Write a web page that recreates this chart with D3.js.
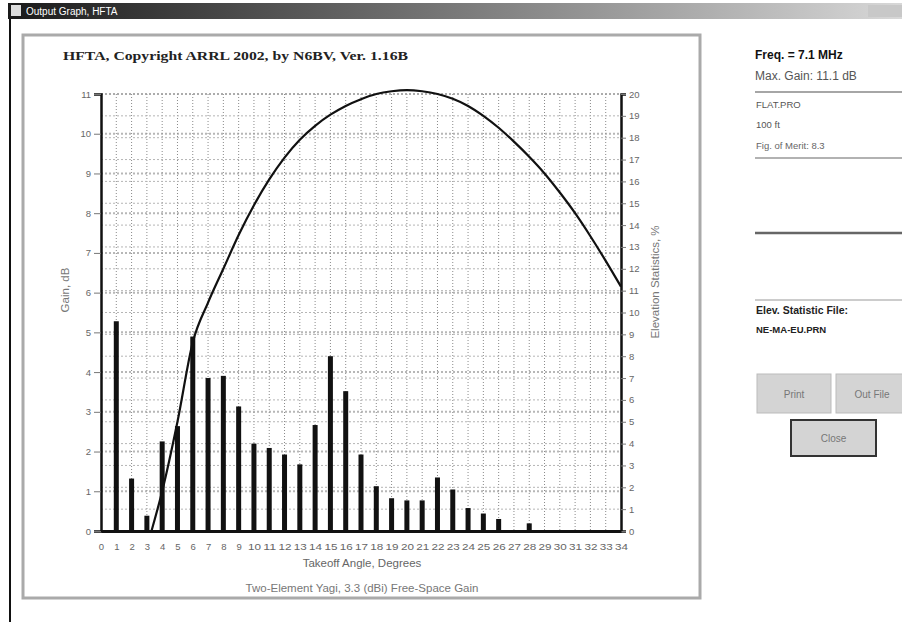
<!DOCTYPE html>
<html><head><meta charset="utf-8">
<script src="https://cdn.jsdelivr.net/npm/d3@7"></script>
<style>body{margin:0;background:#fff}svg{display:block}</style>
</head><body><svg id="c" width="902" height="622"></svg>
<script>
// ---- data ----
const angleTicks = d3.range(0, 35);          // 0..34 degrees
const gainTicks = d3.range(0, 12);           // 0..11 dB
const statTicks = d3.range(0, 21);           // 0..20 %
const statAngles = d3.range(1, 29);          // 1..28
const statValues = [9.6, 2.4, 0.7, 4.1, 4.8, 8.9, 7.0, 7.1, 5.7, 4.0, 3.8, 3.5, 3.05, 4.85,
                    8.0, 6.4, 3.5, 2.05, 1.5, 1.4, 1.4, 2.45, 1.9, 1.05, 0.8, 0.55, 0, 0.35];
const gainAngles = [3.3, 4, 5, 6, 7, 8, 9, 10, 11, 12, 13, 14, 15, 16, 17, 18, 19, 20, 21, 22,
                    23, 24, 25, 26, 27, 28, 29, 30, 31, 32, 33, 34];
const gainValues = [0, 1.0, 2.75, 4.75, 5.75, 6.6, 7.45, 8.2, 8.85, 9.4, 9.85, 10.2, 10.48, 10.7,
                    10.87, 11.0, 11.07, 11.1, 11.07, 11.0, 10.88, 10.7, 10.45, 10.15, 9.8, 9.42,
                    9.0, 8.52, 8.0, 7.42, 6.8, 6.15];
const titleText = "HFTA, Copyright ARRL 2002, by N6BV, Ver. 1.16B";
const windowTitle = "Output Graph, HFTA";
const infoLines = ["Freq. = 7.1 MHz", "Max. Gain: 11.1 dB", "FLAT.PRO", "100 ft", "Fig. of Merit: 8.3",
                   "Elev. Statistic File:", "NE-MA-EU.PRN"];

const svg = d3.select("#c");
const X0 = 101, X1 = 621, Y0 = 531, Y1 = 94;
const x = d3.scaleLinear().domain([0, 34]).range([X0, X1]);
const yG = d3.scaleLinear().domain([0, 11]).range([Y0, Y1]);
const yS = d3.scaleLinear().domain([0, 20]).range([Y0, Y1]);

// ---- window chrome ----
const defs = svg.append("defs");
const gr = defs.append("linearGradient").attr("id", "tb");
gr.append("stop").attr("offset", "0").attr("stop-color", "#1a1a1a");
gr.append("stop").attr("offset", "1").attr("stop-color", "#d8d8d8");
svg.append("rect").attr("x", 8).attr("y", 3).attr("width", 894).attr("height", 16).attr("fill", "url(#tb)");
svg.append("rect").attr("x", 11).attr("y", 5).attr("width", 10).attr("height", 11).attr("fill", "#ddd");
svg.append("text").attr("x", 26).attr("y", 15).attr("fill", "#fff")
  .style("font", "10px 'Liberation Sans', Arial, sans-serif").text(windowTitle);
svg.append("rect").attr("x", 868).attr("y", 5).attr("width", 34).attr("height", 12).attr("fill", "#c8c8c8");
svg.append("line").attr("x1", 10).attr("x2", 10).attr("y1", 19).attr("y2", 622).attr("stroke", "#111").attr("stroke-width", 2);

// chart panel frame
svg.append("rect").attr("x", 23).attr("y", 35).attr("width", 677).attr("height", 563)
  .attr("fill", "#fff").attr("stroke", "#aaa").attr("stroke-width", 3);

svg.append("text").attr("x", 63).attr("y", 60)
  .style("font", "bold 13px 'Liberation Serif', 'Times New Roman', serif").attr("fill", "#222")
  .attr("textLength", 345).attr("lengthAdjust", "spacingAndGlyphs")
  .text(titleText);

// ---- grid ----
const grid = svg.append("g");
grid.selectAll(".vg").data(angleTicks.filter(d => d > 0 && d < 34)).join("line")
  .attr("x1", d => x(d)).attr("x2", d => x(d)).attr("y1", Y1).attr("y2", Y0)
  .attr("stroke", "#8a8a8a").attr("stroke-width", 1).attr("stroke-dasharray", "1,2");
grid.selectAll(".hs").data(statTicks.filter(d => d > 0)).join("line")
  .attr("x1", X0).attr("x2", X1).attr("y1", d => yS(d)).attr("y2", d => yS(d))
  .attr("stroke", "#b5b5b5").attr("stroke-width", 1).attr("stroke-dasharray", "2,2");
grid.selectAll(".hg").data(gainTicks.filter(d => d > 0)).join("line")
  .attr("x1", X0).attr("x2", X1).attr("y1", d => yG(d)).attr("y2", d => yG(d))
  .attr("stroke", "#999").attr("stroke-width", 2).attr("stroke-dasharray", "2,2").attr("opacity", 0.7);

// ---- bars ----
svg.append("g").selectAll("rect").data(statAngles.map((a, i) => [a, statValues[i]])).join("rect")
  .attr("x", d => x(d[0]) - 2.5).attr("width", 5)
  .attr("y", d => yS(d[1])).attr("height", d => Y0 - yS(d[1]))
  .attr("fill", "#111");

// ---- gain curve ----
const line = d3.line().x(d => x(d[0])).y(d => yG(d[1])).curve(d3.curveMonotoneX);
svg.append("path").datum(gainAngles.map((a, i) => [a, gainValues[i]]))
  .attr("d", line).attr("fill", "none").attr("stroke", "#111").attr("stroke-width", 2.2);

// ---- axes ----
const tickFont = "9.5px 'Liberation Sans', Arial, sans-serif";
const axL = svg.append("g").attr("transform", `translate(${X0},0)`)
  .call(d3.axisLeft(yG).tickValues(gainTicks).tickSize(7).tickPadding(3).tickFormat(d3.format("d")));
const axR = svg.append("g").attr("transform", `translate(${X1},0)`)
  .call(d3.axisRight(yS).tickValues(statTicks).tickSize(5).tickPadding(3).tickFormat(d3.format("d")));
const axB = svg.append("g").attr("transform", `translate(0,${Y0})`)
  .call(d3.axisBottom(x).tickValues(angleTicks).tickSize(0).tickPadding(12).tickFormat(d3.format("d")));
[axL, axR, axB].forEach(a => {
  a.select(".domain").attr("stroke", "#111").attr("stroke-width", 2.5);
  a.selectAll(".tick line").attr("stroke", "#777");
  a.selectAll("text").style("font", tickFont).attr("fill", "#666");
});
axB.select(".domain").attr("stroke-width", 3);
axB.selectAll("text").attr("textLength", d => d >= 10 ? 13 : null).attr("lengthAdjust", "spacingAndGlyphs");

const labFont = "11.5px 'Liberation Sans', Arial, sans-serif";
svg.append("text").attr("transform", "translate(69,290) rotate(-90)").attr("text-anchor", "middle")
  .style("font", labFont).attr("fill", "#777").text("Gain, dB");
svg.append("text").attr("transform", "translate(659,282) rotate(-90)").attr("text-anchor", "middle")
  .style("font", labFont).attr("fill", "#777").text("Elevation Statistics, %");
svg.append("text").attr("x", 362).attr("y", 567).attr("text-anchor", "middle")
  .style("font", labFont).attr("fill", "#666").text("Takeoff Angle, Degrees");
svg.append("text").attr("x", 362).attr("y", 592).attr("text-anchor", "middle")
  .style("font", labFont).attr("fill", "#777").text("Two-Element Yagi, 3.3 (dBi) Free-Space Gain");

// ---- right info panel ----
const pf = "'Liberation Sans', Arial, sans-serif";
function t(s, xx, yy, f, c) { svg.append("text").attr("x", xx).attr("y", yy).style("font", f).attr("fill", c).text(s); }
t(infoLines[0], 755, 59, `bold 12px ${pf}`, "#111");
t(infoLines[1], 755, 80, `12px ${pf}`, "#555");
t(infoLines[2], 756, 108, `9.5px ${pf}`, "#555");
t(infoLines[3], 756, 128, `9.5px ${pf}`, "#555");
t(infoLines[4], 756, 149, `9.5px ${pf}`, "#666");
t(infoLines[5], 756, 314, `bold 10.5px ${pf}`, "#222");
t(infoLines[6], 756, 333, `bold 9.5px ${pf}`, "#222");
function hl(yy, w, c) { svg.append("line").attr("x1", 755).attr("x2", 902).attr("y1", yy).attr("y2", yy).attr("stroke", c).attr("stroke-width", w); }
hl(92, 1.5, "#888"); hl(158, 1.5, "#999"); hl(233, 2.5, "#666"); hl(300, 2, "#ccc");
function btn(bx, by, bw, bh, s, dark) {
  svg.append("rect").attr("x", bx).attr("y", by).attr("width", bw).attr("height", bh).attr("fill", "#d4d4d4")
    .attr("stroke", dark ? "#333" : "#bbb").attr("stroke-width", dark ? 2 : 1);
  svg.append("text").attr("x", bx + bw / 2).attr("y", by + bh / 2 + 4).attr("text-anchor", "middle")
    .style("font", `10px ${pf}`).attr("fill", "#777").text(s);
}
btn(757, 374, 74, 39, "Print", false);
btn(836, 374, 72, 39, "Out File", false);
btn(791, 420, 85, 36, "Close", true);
</script></body></html>
